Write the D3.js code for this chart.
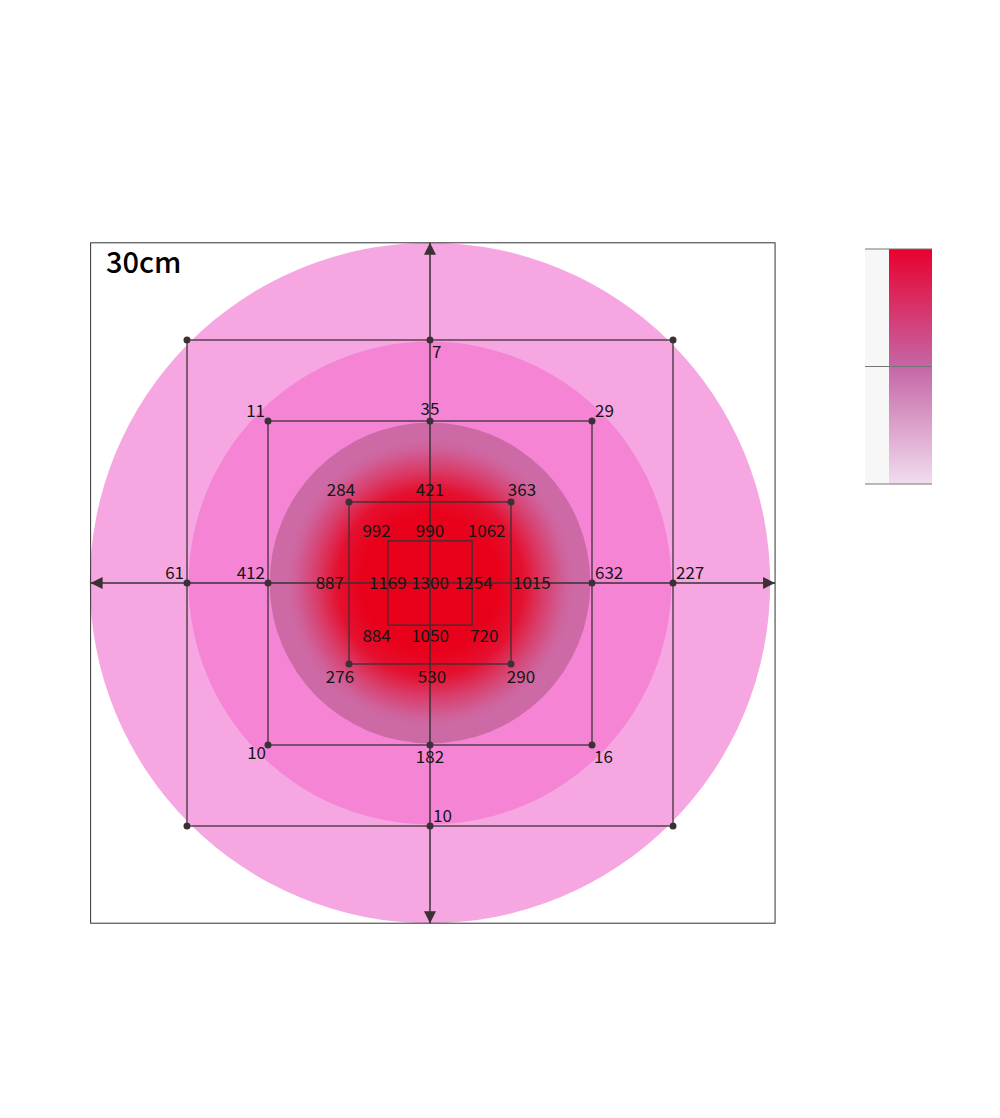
<!DOCTYPE html>
<html>
<head>
<meta charset="utf-8">
<script src="https://cdn.jsdelivr.net/npm/d3@7"></script>
<style>
  html, body { margin: 0; padding: 0; background: #fff; }
  svg { display: block; }
</style>
</head>
<body>
<div id="chart"></div>
<script>
// ---------- DATA ----------
const title = "30cm";
// circle radii (grid units) and fills
const circleRadii = [4.2, 2.98, 1.98];
const circleColors = ["#f6a6e1", "#f584d5", "#cd6aa6"];
// measurement squares (half-size in grid units)
const squareHalf = [3, 2, 1, 0.52];
// squares that carry dots at corners / axis crossings
const dotCorners = [3, 2, 1];
const dotAxis = [3, 2];
// measured points: x, y (grid units), value, label placement
const ptX =   [0,   -3,  3,   0,   0,  -2,  2,  -2,  2,  -2,  0,   2,  -1,  0,   1,   -1,  1,    -1,  0,   1,  -0.66, 0,   0.7,  -0.52, 0,    0.54, -0.66, 0,    0.67];
const ptY =   [3,    0,  0,  -3,   2,   2,  2,   0,  0,  -2, -2,  -2,   1,  1,   1,    0,  0,    -1, -1,  -1,   0.64, 0.64, 0.64, 0,    0,    0,    -0.65, -0.65, -0.65];
const ptVal = [7,   61, 227, 10,  35,  11, 29, 412, 632, 10, 182, 16, 284, 421, 363, 887, 1015, 276, 530, 290, 992, 990, 1062, 1169, 1300, 1254, 884, 1050, 720];
const ptPos = ["se","nw","ne","ne","n","nw","ne","nw","ne","sw","s","se","nwc","n","nec","w","e","swc","s2","sec","c","c","c","c","c","c","c","c","c"];
// legend colour stops (top -> bottom)
const legendStops = ["#e8002e", "#c566a6", "#f1dcef"];

// ---------- LAYOUT ----------
const W = 1000, H = 1118;
const cx = 430, cy = 583, unit = 81;
const x = d3.scaleLinear().domain([-1, 1]).range([cx - unit, cx + unit]);
const y = d3.scaleLinear().domain([-1, 1]).range([cy + unit, cy - unit]);
const frame = { x0: -4.19, x1: 4.26, y0: -4.2, y1: 4.2 };
const lineColor = "#3a3035";
const font = "'Noto Sans CJK JP', 'Noto Sans', sans-serif";

const svg = d3.select("#chart").append("svg").attr("width", W).attr("height", H);
const defs = svg.append("defs");

// red radial gradient
const rg = defs.append("radialGradient").attr("id", "redGrad");
[[0, 1], [0.42, 1], [0.58, 0.85], [0.72, 0.4], [0.84, 0.08], [0.9, 0]].forEach(([o, op]) =>
  rg.append("stop").attr("offset", o).attr("stop-color", "#e9001a").attr("stop-opacity", op));

// arrow marker
defs.append("marker").attr("id", "arrow").attr("viewBox", "0 0 10 10")
  .attr("refX", 10).attr("refY", 5).attr("markerWidth", 12).attr("markerHeight", 12)
  .attr("markerUnits", "userSpaceOnUse").attr("orient", "auto-start-reverse")
  .append("path").attr("d", "M0,0 L10,5 L0,10 Z").attr("fill", lineColor);

// white background of frame
svg.append("rect")
  .attr("x", x(frame.x0)).attr("y", y(frame.y1))
  .attr("width", x(frame.x1) - x(frame.x0)).attr("height", y(frame.y0) - y(frame.y1))
  .attr("fill", "#fff");

// circles
svg.selectAll("circle.zone").data(circleRadii).join("circle").attr("class", "zone")
  .attr("cx", x(0)).attr("cy", y(0))
  .attr("r", d => x(d) - x(0))
  .attr("fill", (d, i) => circleColors[i]);

svg.append("circle").attr("cx", x(0)).attr("cy", y(0))
  .attr("r", x(circleRadii[2]) - x(0)).attr("fill", "url(#redGrad)");

// squares
svg.selectAll("rect.sq").data(squareHalf).join("rect").attr("class", "sq")
  .attr("x", d => x(-d)).attr("y", d => y(d))
  .attr("width", d => x(d) - x(-d)).attr("height", d => y(-d) - y(d))
  .attr("fill", "none").attr("stroke", lineColor).attr("stroke-width", 1.5)
  .attr("stroke-opacity", 0.85);

// axes
[[0, frame.y1, "v"], [0, frame.y0, "v"], [frame.x0, 0, "h"], [frame.x1, 0, "h"]].forEach(([tx, ty]) => {
  svg.append("line").attr("x1", x(0)).attr("y1", y(0))
    .attr("x2", x(tx)).attr("y2", y(ty))
    .attr("stroke", lineColor).attr("stroke-width", 1.5).attr("marker-end", "url(#arrow)");
});

// dots
const dots = [];
dotCorners.forEach(h => [[-1,-1],[-1,1],[1,-1],[1,1]].forEach(([a,b]) => dots.push([a*h, b*h])));
dotAxis.forEach(h => [[0,1],[0,-1],[1,0],[-1,0]].forEach(([a,b]) => dots.push([a*h, b*h])));
svg.selectAll("circle.dot").data(dots).join("circle").attr("class", "dot")
  .attr("cx", d => x(d[0])).attr("cy", d => y(d[1])).attr("r", 3.5).attr("fill", lineColor);

// frame border
svg.append("rect")
  .attr("x", x(frame.x0)).attr("y", y(frame.y1))
  .attr("width", x(frame.x1) - x(frame.x0)).attr("height", y(frame.y0) - y(frame.y1))
  .attr("fill", "none").attr("stroke", "#333").attr("stroke-width", 1);

// labels
const place = {
  n:   { dx: 0,   dy: -6, a: "middle" },
  s:   { dx: 0,   dy: 18, a: "middle" },
  s2:  { dx: 2,   dy: 19, a: "middle" },
  nw:  { dx: -3,  dy: -4, a: "end" },
  ne:  { dx: 3,   dy: -4, a: "start" },
  sw:  { dx: -2,  dy: 14, a: "end" },
  se:  { dx: 2,   dy: 18, a: "start" },
  nwc: { dx: -8,  dy: -6, a: "middle" },
  nec: { dx: 11,  dy: -6, a: "middle" },
  swc: { dx: -9,  dy: 19, a: "middle" },
  sec: { dx: 10,  dy: 19, a: "middle" },
  w:   { dx: -5,  dy: 6,  a: "end" },
  e:   { dx: 2,   dy: 6,  a: "start" },
  c:   { dx: 0,   dy: 6,  a: "middle" }
};
svg.selectAll("text.val").data(ptVal).join("text").attr("class", "val")
  .attr("x", (d, i) => x(ptX[i]) + place[ptPos[i]].dx)
  .attr("y", (d, i) => y(ptY[i]) + place[ptPos[i]].dy)
  .attr("text-anchor", (d, i) => place[ptPos[i]].a)
  .attr("font-family", font)
  .attr("font-size", 17).attr("fill", "#151515")
  .text(d => d);

// title
svg.append("text").attr("x", 106).attr("y", 273)
  .attr("font-family", font)
  .attr("font-size", 29).attr("font-weight", 500).attr("fill", "#000")
  .text(title);

// legend
const lg = { x: 865, x2: 889, x3: 932, y0: 249, y1: 484 };
const ly = d3.scaleLinear().domain([0, legendStops.length - 1]).range([lg.y0, lg.y1]);
const lgGrad = defs.append("linearGradient").attr("id", "legGrad")
  .attr("x1", 0).attr("x2", 0).attr("y1", 0).attr("y2", 1);
legendStops.forEach((c, i) => lgGrad.append("stop")
  .attr("offset", i / (legendStops.length - 1)).attr("stop-color", c));
svg.append("rect").attr("x", lg.x).attr("y", lg.y0).attr("width", lg.x2 - lg.x)
  .attr("height", lg.y1 - lg.y0).attr("fill", "#f7f7f7");
svg.append("rect").attr("x", lg.x2).attr("y", lg.y0).attr("width", lg.x3 - lg.x2)
  .attr("height", lg.y1 - lg.y0).attr("fill", "url(#legGrad)");
svg.selectAll("line.lt").data(legendStops).join("line").attr("class", "lt")
  .attr("x1", lg.x).attr("x2", lg.x3)
  .attr("y1", (d, i) => ly(i)).attr("y2", (d, i) => ly(i))
  .attr("stroke", "#777").attr("stroke-width", 1.2);
</script>
</body>
</html>
